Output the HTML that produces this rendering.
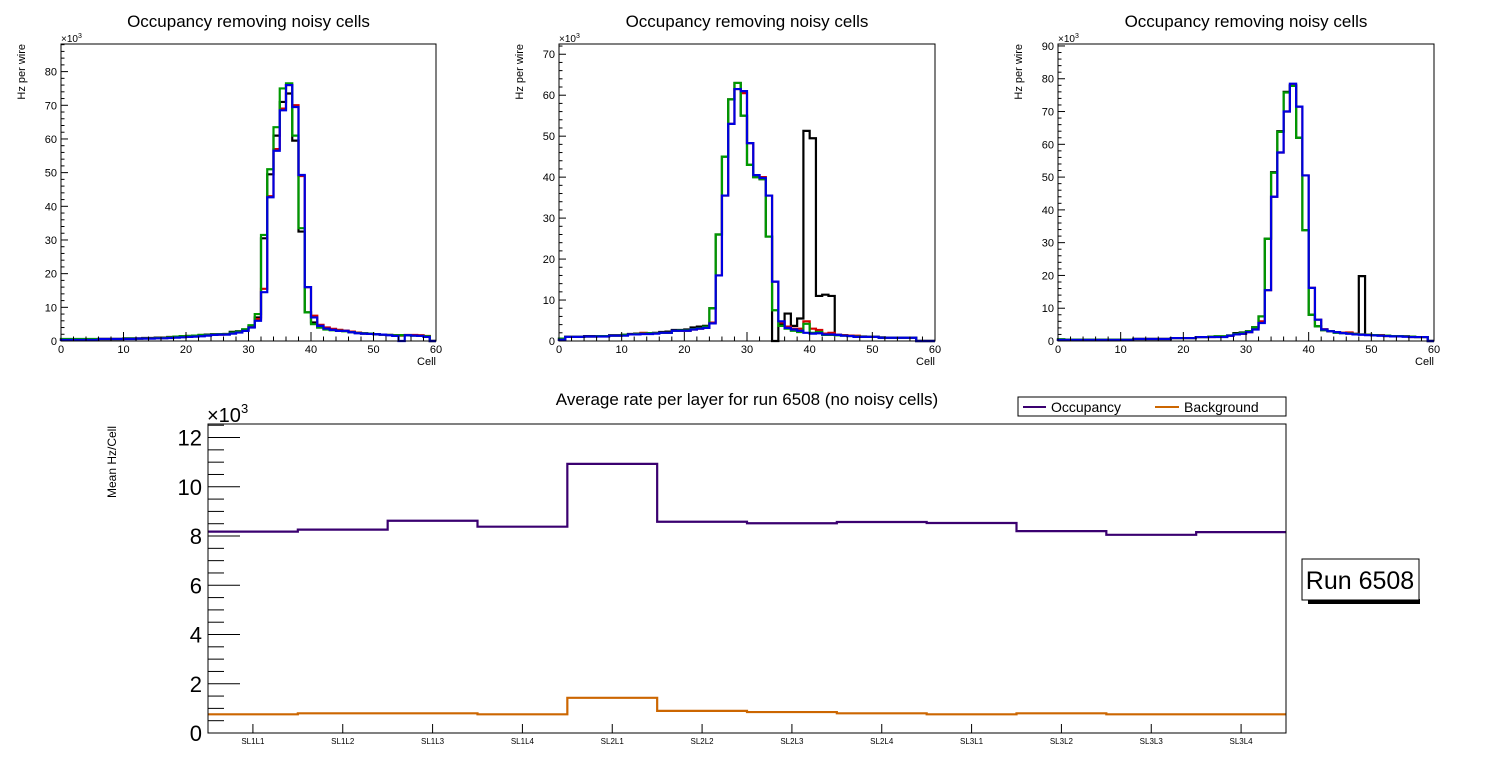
<!DOCTYPE html>
<html><head><meta charset="utf-8">
<style>
html,body{margin:0;padding:0;background:#fff;}
svg{display:block;font-family:"Liberation Sans",sans-serif;}
</style></head>
<body>
<svg id="root" width="1496" height="772" viewBox="0 0 1496 772" xmlns="http://www.w3.org/2000/svg"></svg>
<script>
// ---------- top panels data (values in units of 1e3 Hz per wire), 60 cells each ----------
const p1Black=[0.5,0.5,0.5,0.5,0.5,0.5,0.6,0.6,0.6,0.6,0.8,0.8,0.8,0.9,0.9,1.0,1.0,1.2,1.3,1.4,1.5,1.6,1.8,1.9,2.0,2.0,2.1,2.7,2.9,3.3,4.2,7.0,30.5,49.5,61.0,71.0,73.5,59.5,32.5,8.5,5.5,4.0,3.6,3.3,3.2,3.1,2.7,2.4,2.2,2.1,2.0,1.9,1.8,1.7,1.7,1.7,1.7,1.6,1.4,0];
const p1Red=[0.5,0.5,0.5,0.5,0.5,0.5,0.6,0.6,0.6,0.6,0.7,0.7,0.7,0.8,0.8,0.9,0.9,1.1,1.1,1.2,1.3,1.4,1.6,1.7,1.8,1.9,2.0,2.3,2.6,3.1,4.3,6.5,15.5,43.0,57.0,69.0,76.0,70.0,49.0,16.0,7.5,4.8,4.0,3.6,3.3,3.1,2.8,2.5,2.3,2.1,2.0,1.9,1.8,1.7,1.6,1.8,1.8,1.7,1.5,0];
const p1Green=[0.6,0.6,0.6,0.6,0.6,0.6,0.6,0.6,0.6,0.6,0.7,0.7,0.7,0.8,0.8,0.9,0.9,1.1,1.3,1.4,1.5,1.6,1.8,1.8,1.9,2.0,2.0,2.5,2.8,3.5,4.7,8.0,31.5,51.0,63.5,75.0,76.5,61.0,33.5,8.5,5.0,4.0,3.4,3.2,3.0,2.9,2.6,2.4,2.3,2.2,2.0,1.9,1.8,1.7,1.7,1.7,1.6,1.5,1.4,0];
const p1Blue=[0.3,0.3,0.3,0.3,0.3,0.3,0.6,0.6,0.6,0.6,0.6,0.6,0.7,0.7,0.7,0.8,0.8,0.9,1.0,1.1,1.2,1.3,1.4,1.6,1.8,1.9,1.9,2.2,2.5,3.0,4.0,6.0,14.5,42.7,56.5,68.5,76.0,69.5,49.3,16.0,7.0,4.5,3.7,3.3,3.0,3.0,2.6,2.3,2.2,2.1,2.0,1.9,1.7,1.5,0,1.7,1.6,1.5,1.2,0];

const p2Black=[0.6,1.0,1.0,1.0,1.2,1.2,1.2,1.2,1.4,1.4,1.5,1.7,1.8,1.9,1.9,2.0,2.2,2.3,2.7,2.7,2.8,3.3,3.5,3.7,8.0,26.0,45.0,59.0,63.0,55.0,43.0,40.0,39.5,25.5,0,4.0,6.7,3.7,5.5,51.3,49.5,11.0,11.3,11.0,1.5,1.4,1.3,1.2,1.1,1.0,1.0,0.9,0.8,0.8,0.8,0.8,0.8,0,0,0];
const p2Red=[0.3,1.0,1.0,1.0,1.1,1.1,1.2,1.2,1.3,1.3,1.4,1.6,1.7,2.0,1.8,1.9,2.0,2.0,2.5,2.5,2.5,2.8,3.0,3.3,4.5,16.0,35.5,53.0,61.5,60.5,48.3,40.5,40.0,35.5,14.5,4.5,3.5,3.0,3.0,4.8,3.0,2.7,1.8,2.0,1.5,1.4,1.3,1.3,1.0,1.0,1.0,0.8,0.8,0.8,0.8,0.8,0.8,0,0,0];
const p2Green=[0.6,1.0,1.0,1.0,1.1,1.1,1.2,1.2,1.3,1.3,1.5,1.6,1.7,1.8,1.9,1.9,2.0,2.0,2.5,2.6,2.6,2.9,3.1,3.5,8.0,26.0,45.0,59.0,63.0,55.0,43.0,40.0,39.5,25.5,7.5,3.7,3.0,2.5,2.2,4.2,2.0,2.2,1.5,1.5,1.4,1.3,1.2,1.1,1.0,1.0,1.0,0.8,0.8,0.8,0.8,0.8,0.8,0,0,0];
const p2Blue=[0.3,1.0,1.0,1.0,1.1,1.1,1.1,1.1,1.3,1.3,1.3,1.6,1.6,1.7,1.7,1.8,2.0,2.0,2.5,2.5,2.5,2.8,3.0,3.2,4.3,16.0,35.5,53.0,61.5,61.0,48.3,40.5,39.8,35.5,14.5,4.8,3.2,2.8,2.5,2.0,1.8,1.9,1.6,1.6,1.5,1.3,1.2,1.0,1.0,1.0,1.0,0.8,0.8,0.8,0.8,0.8,0.8,0,0,0];

const p3Black=[0.5,0.4,0.4,0.4,0.4,0.4,0.4,0.4,0.4,0.4,0.4,0.4,0.6,0.6,0.6,0.6,0.6,0.6,0.9,0.9,0.9,0.9,1.2,1.2,1.3,1.4,1.4,1.7,2.4,2.6,3.0,4.2,7.5,31.2,51.5,64.0,76.0,78.0,62.0,33.8,8.0,4.5,3.3,3.0,2.6,2.5,2.4,2.2,19.8,1.9,1.8,1.7,1.6,1.5,1.5,1.4,1.3,1.2,1.2,0];
const p3Red=[0.3,0.3,0.2,0.3,0.3,0.3,0.3,0.3,0.3,0.3,0.3,0.3,0.6,0.6,0.6,0.6,0.6,0.6,0.9,0.9,0.9,0.9,1.2,1.2,1.2,1.3,1.3,1.6,2.0,2.2,2.7,3.6,6.0,15.5,44.0,57.5,70.0,78.0,71.5,50.5,16.2,6.5,3.6,3.0,2.7,2.5,2.6,2.2,2.0,1.9,1.7,1.8,1.5,1.4,1.4,1.4,1.2,1.2,1.2,0];
const p3Green=[0.5,0.4,0.4,0.4,0.4,0.4,0.4,0.4,0.4,0.4,0.4,0.4,0.6,0.6,0.6,0.6,0.6,0.6,0.9,0.9,0.9,0.9,1.2,1.2,1.3,1.4,1.4,1.7,2.2,2.5,3.0,4.2,7.5,31.2,51.3,63.8,75.8,77.8,62.0,33.8,8.0,4.5,3.3,3.0,2.5,2.4,2.3,2.1,2.0,1.9,1.8,1.7,1.6,1.5,1.5,1.4,1.3,1.2,1.2,0];
const p3Blue=[0.3,0.3,0.3,0.3,0.3,0.3,0.3,0.3,0.3,0.3,0.3,0.3,0.6,0.6,0.6,0.6,0.6,0.6,0.9,0.9,0.9,0.9,1.2,1.2,1.2,1.2,1.2,1.6,2.0,2.2,2.7,3.5,5.5,15.5,44.0,57.5,70.0,78.5,71.5,50.5,16.2,6.5,3.5,3.0,2.7,2.4,2.2,2.0,1.9,1.8,1.7,1.6,1.5,1.4,1.4,1.3,1.2,1.2,1.2,0];

const p1YTicks=[0,10,20,30,40,50,60,70,80];
const p2YTicks=[0,10,20,30,40,50,60,70];
const p3YTicks=[0,10,20,30,40,50,60,70,80,90];
const cellTicks=[0,10,20,30,40,50,60];

// ---------- bottom chart data (units of 1e3 Hz/Cell) ----------
const layers=["SL1L1","SL1L2","SL1L3","SL1L4","SL2L1","SL2L2","SL2L3","SL2L4","SL3L1","SL3L2","SL3L3","SL3L4"];
const occupancy=[8.18,8.26,8.62,8.38,10.93,8.58,8.52,8.57,8.53,8.2,8.05,8.16];
const background=[0.76,0.8,0.8,0.76,1.43,0.9,0.85,0.8,0.76,0.8,0.76,0.76];
const rateTicks=[0,2,4,6,8,10,12];

const NS="http://www.w3.org/2000/svg";
const root=document.getElementById('root');
function mk(tag,attrs,parent){const e=document.createElementNS(NS,tag);for(const k in attrs)e.setAttribute(k,attrs[k]);(parent||root).appendChild(e);return e;}

function panel(id,x0,x1,y0,y1,ymax,ticks,series){
  const g=mk('g',{});
  
  
  const X=v=>x0+(x1-x0)*v/60;
  const Y=v=>y1-(y1-y0)*v/ymax;
  const cx=(x0+x1)/2;
  const t=mk('text',{x:cx,y:27,'font-size':17,'text-anchor':'middle',fill:'#000'},g);t.textContent='Occupancy removing noisy cells';
  
  
  const yl=mk('text',{x:0,y:0,'font-size':11,'text-anchor':'end',transform:`translate(${x0-36},${y0}) rotate(-90)`},g);yl.textContent='Hz per wire';
  
  
  const xl=mk('text',{x:x1,y:365,'font-size':11,'text-anchor':'end'},g);xl.textContent='Cell';
  
  
  const ex=mk('text',{x:x0,y:42,'font-size':10,fill:'#000'},g);ex.innerHTML='×10<tspan dy="-4" font-size="7">3</tspan>';
  
  
  // series
  const cols={black:'#000',red:'#d40000',green:'#009900',blue:'#0000e0'};
  for(const [name,arr] of series){
    let d=`M${X(0)},${Y(0)} L${X(0)},${Y(arr[0])}`;
    for(let i=0;i<arr.length;i++){d+=` L${X(i)},${Y(arr[i])} L${X(i+1)},${Y(arr[i])}`;}
    d+=` L${X(arr.length)},${Y(0)}`;
    const p=mk('path',{d:d,fill:'none',stroke:cols[name],'stroke-width':2.2},g);
    
    
  }
  // frame
  const fr=mk('rect',{x:x0,y:y0,width:x1-x0,height:y1-y0,fill:'none',stroke:'#000','stroke-width':1},g);
  
  
  // y ticks
  for(let v=0;v<=ymax+1e-9;v+=2){
    const maj=Math.abs(v%10)<1e-9;
    mk('line',{x1:x0,x2:x0+(maj?7:3.5),y1:Y(v),y2:Y(v),stroke:'#000'},g);
  }
  for(const v of ticks){
    const tl=mk('text',{x:x0-4,y:Y(v)+4,'font-size':11,'text-anchor':'end'},g);tl.textContent=v;
    
    
  }
  for(let v=0;v<=60;v+=2){
    const maj=v%10===0;
    mk('line',{x1:X(v),x2:X(v),y1:y1,y2:y1-(maj?9:4.5),stroke:'#000'},g);
  }
  for(const v of cellTicks){
    const tl=mk('text',{x:X(v),y:y1+12,'font-size':11,'text-anchor':'middle'},g);tl.textContent=v;
    
    
  }
}
panel('occupancy-panel-1',61,436,44,341,88.2,p1YTicks,[['black',p1Black],['red',p1Red],['green',p1Green],['blue',p1Blue]]);
panel('occupancy-panel-2',559,935,44,341,72.5,p2YTicks,[['black',p2Black],['red',p2Red],['green',p2Green],['blue',p2Blue]]);
panel('occupancy-panel-3',1058,1434,44,341,90.6,p3YTicks,[['black',p3Black],['red',p3Red],['green',p3Green],['blue',p3Blue]]);

// ---------- bottom chart ----------
(function(){
  const x0=208,x1=1286,y0=424,y1=733,ymax=12.55;
  const g=mk('g',{});
  
  
  const bw=(x1-x0)/layers.length;
  const X=i=>x0+bw*i;
  const Y=v=>y1-(y1-y0)*v/ymax;
  const t=mk('text',{x:747,y:405,'font-size':17,'text-anchor':'middle'},g);t.textContent='Average rate per layer for run 6508 (no noisy cells)';
  
  
  const yl=mk('text',{x:0,y:0,'font-size':12,'text-anchor':'middle',transform:'translate(116,462) rotate(-90)'},g);yl.textContent='Mean Hz/Cell';
  
  
  const ex=mk('text',{x:207,y:422,'font-size':20},g);ex.innerHTML='×10<tspan dy="-9" font-size="13">3</tspan>';
  
  
  function step(arr,col,name){
    let d=`M${X(0)},${Y(arr[0])}`;
    for(let i=0;i<arr.length;i++){d+=` L${X(i)},${Y(arr[i])} L${X(i+1)},${Y(arr[i])}`;}
    const p=mk('path',{d:d,fill:'none',stroke:col,'stroke-width':2.2},g);
    
    
  }
  step(occupancy,'#3a0070','occupancy-line');
  step(background,'#cc6600','background-line');
  const fr=mk('rect',{x:x0,y:y0,width:x1-x0,height:y1-y0,fill:'none',stroke:'#000','stroke-width':1},g);
  
  
  for(let v=0;v<=ymax;v+=0.5){
    const maj=Math.abs(v%2)<1e-9;
    mk('line',{x1:x0,x2:x0+(maj?32:16),y1:Y(v),y2:Y(v),stroke:'#000'},g);
  }
  for(const v of rateTicks){
    const tl=mk('text',{x:202,y:Y(v)+8,'font-size':22,'text-anchor':'end'},g);tl.textContent=v;
    
    
  }
  layers.forEach((l,i)=>{
    const cx=X(i+0.5);
    mk('line',{x1:cx,x2:cx,y1:y1,y2:y1-9,stroke:'#000'},g);
    const tl=mk('text',{x:cx,y:744,'font-size':8,'text-anchor':'middle'},g);tl.textContent=l;
    
    
  });
  // legend
  const lg=mk('g',{},g);
  
  
  mk('rect',{x:1018,y:397,width:268,height:19,fill:'#fff',stroke:'#000'},lg);
  mk('line',{x1:1023,x2:1046,y1:407,y2:407,stroke:'#3a0070','stroke-width':2},lg);
  const t1=mk('text',{x:1051,y:412,'font-size':14},lg);t1.textContent='Occupancy';
  
  
  mk('line',{x1:1155,x2:1179,y1:407,y2:407,stroke:'#cc6600','stroke-width':2},lg);
  const t2=mk('text',{x:1184,y:412,'font-size':14},lg);t2.textContent='Background';
  
  
  // run box
  const rb=mk('g',{});
  
  
  mk('rect',{x:1308,y:599,width:112,height:5,fill:'#000'},rb);
  mk('rect',{x:1302,y:559,width:117,height:41,fill:'#fff',stroke:'#000'},rb);
  const rt=mk('text',{x:1360,y:589,'font-size':25,'text-anchor':'middle'},rb);rt.textContent='Run 6508';
  
  
})();
</script>
</body></html>
